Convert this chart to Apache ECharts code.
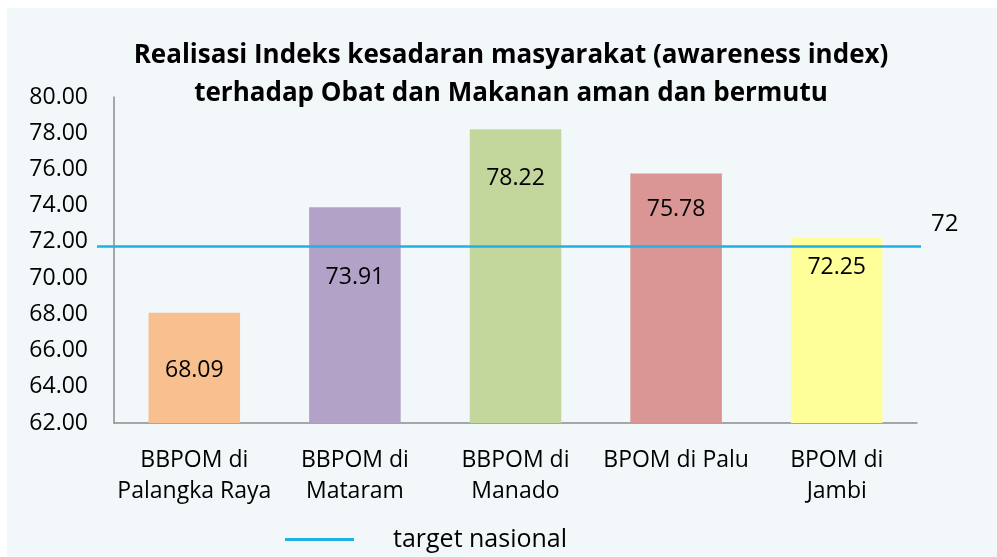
<!DOCTYPE html>
<html>
<head>
<meta charset="utf-8">
<script src="https://cdn.jsdelivr.net/npm/echarts@6/dist/echarts.min.js"></script>
<style>
  html, body { margin: 0; padding: 0; background: #ffffff; }
  #chart { width: 997px; height: 557px; }
</style>
</head>
<body>
<div id="chart"></div>
<script>
// ----------data----------
const categories = ['BBPOM di\nPalangka Raya', 'BBPOM di\nMataram', 'BBPOM di\nManado', 'BPOM di Palu', 'BPOM di\nJambi'];
const realisasi = [68.09, 73.91, 78.22, 75.78, 72.25];
const targetLabel = '72';
const targetLevel = 71.75; // where the line sits in the picture
const yTicks = { min: 62, max: 80, step: 2 };
// ------------------------

// ----------style----------
const barColors = ['#f9c08f', '#b3a2c7', '#c3d69b', '#d99694', '#ffff99'];
const labelDistance = [46, 59, 38, 25, 19]; // labels were hand-placed in the source
const fontFamily = '"Open Sans", "Noto Sans", sans-serif';
const axisGrey = '#8c8c8c';
const targetColor = '#1fb1e6';
// -------------------------

const chart = echarts.init(document.getElementById('chart'));

const option = {
  animation: false,
  backgroundColor: '#ffffff',
  graphic: [
    {
      type: 'rect',
      z: -10,
      shape: { x: 7, y: 8, width: 990, height: 549 },
      style: { fill: '#f2f7fa' },
    },
  ],
  title: {
    text: 'Realisasi Indeks kesadaran masyarakat (awareness index)\nterhadap Obat dan Makanan aman dan bermutu',
    left: 506,
    textAlign: 'center',
    top: 32,
    textStyle: {
      fontFamily,
      fontSize: 26,
      fontWeight: 'bold',
      color: '#000',
      lineHeight: 38,
    },
  },
  legend: {
    data: [{ name: 'target nasional', icon: 'rect' }],
    left: 280,
    top: 522,
    itemWidth: 69,
    itemHeight: 3,
    textStyle: {
      fontFamily,
      fontSize: 25,
      color: '#000',
      padding: [0, 0, 0, 34],
    },
  },
  grid: [
    { left: 114, right: 80, top: 97, bottom: 134 },
    { left: 97, right: 76, top: 97, bottom: 134 },
  ],
  xAxis: [
    {
      type: 'category',
      data: categories,
      gridIndex: 0,
      axisLine: { lineStyle: { color: axisGrey, width: 1.5 } },
      axisTick: { show: false },
      axisLabel: {
        fontFamily,
        fontSize: 23,
        lineHeight: 31,
        color: '#000',
        margin: 22,
        interval: 0,
      },
    },
    {
      type: 'value',
      gridIndex: 1,
      min: 0,
      max: 1,
      show: false,
    },
  ],
  yAxis: [
    {
      type: 'value',
      gridIndex: 0,
      min: yTicks.min,
      max: yTicks.max,
      interval: yTicks.step,
      axisLine: { show: true, lineStyle: { color: axisGrey, width: 1.5 } },
      axisTick: { show: false },
      splitLine: { show: false },
      axisLabel: {
        fontFamily,
        fontSize: 23,
        color: '#000',
        margin: 26,
        formatter: (v) => v.toFixed(2),
      },
    },
    {
      type: 'value',
      gridIndex: 1,
      min: yTicks.min,
      max: yTicks.max,
      show: false,
    },
  ],
  series: [
    {
      type: 'bar',
      xAxisIndex: 0,
      yAxisIndex: 0,
      barCategoryGap: '43%',
      data: realisasi.map((v, i) => ({
        value: v,
        itemStyle: { color: barColors[i] },
        label: { distance: labelDistance[i] },
      })),
      label: {
        show: true,
        position: 'insideTop',
        fontFamily,
        fontSize: 23,
        color: '#000',
        formatter: (p) => p.value.toFixed(2),
      },
    },
    {
      name: 'target nasional',
      type: 'line',
      xAxisIndex: 1,
      yAxisIndex: 1,
      symbol: 'none',
      z: 5,
      lineStyle: { color: targetColor, width: 2.5 },
      itemStyle: { color: targetColor },
      data: [[0, targetLevel], [1, targetLevel]],
      endLabel: {
        show: true,
        formatter: () => targetLabel,
        fontFamily,
        fontSize: 24,
        color: '#000',
        offset: [2, -22],
      },
    },
  ],
};

chart.setOption(option);
</script>
</body>
</html>
